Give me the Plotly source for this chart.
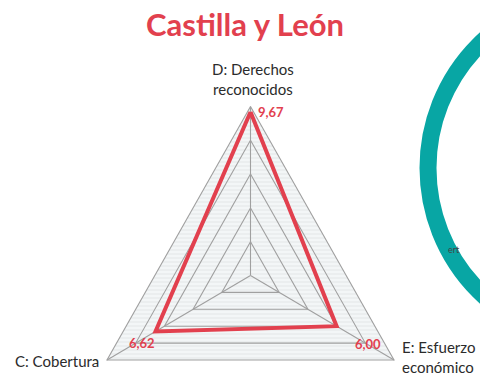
import math
import plotly.graph_objects as go

categories = ["D: Derechos<br>reconocidos", "E: Esfuerzo<br>económico", "C: Cobertura"]
values = [9.67, 6.00, 6.62]
value_labels = ["9,67", "6,00", "6,62"]
grid_levels = [2, 4, 6, 8, 10]
r_max = 10

RED = "#E2404E"
GRID = "#A0A0A0"
TXT = "#2B2B2B"

W, H = 480, 381
# pixel layout of the radar frame
cx_px, cy_px = 250.5, 275.5
sx, sy = 16.57, 16.9   # px per radial unit, horizontal / vertical

angles = [90, -30, 210]   # D top, E bottom-right, C bottom-left (clockwise)


def pol(r, ang):
    a = math.radians(ang)
    return r * math.cos(a), r * math.sin(a)


fig = go.Figure()

# hatched background of the radar
ox = [pol(r_max, a)[0] for a in angles + [angles[0]]]
oy = [pol(r_max, a)[1] for a in angles + [angles[0]]]
fig.add_trace(go.Scatter(
    x=ox, y=oy, mode="lines", fill="toself", fillcolor="#F1F4F5",
    fillpattern=dict(shape="-", size=4, solidity=0.25, fgcolor="#D3D6D6", bgcolor="#F3F6F7"),
    line=dict(width=0), hoverinfo="skip", showlegend=False))

# concentric grid triangles
for lv in grid_levels:
    gx = [pol(lv, a)[0] for a in angles + [angles[0]]]
    gy = [pol(lv, a)[1] for a in angles + [angles[0]]]
    fig.add_trace(go.Scatter(x=gx, y=gy, mode="lines",
                             line=dict(color=GRID, width=1.1),
                             hoverinfo="skip", showlegend=False))

# spokes
for a in angles:
    px, py = pol(r_max, a)
    fig.add_trace(go.Scatter(x=[0, px], y=[0, py], mode="lines",
                             line=dict(color=GRID, width=1.1),
                             hoverinfo="skip", showlegend=False))

# data polygon
dx = [pol(v, a)[0] for v, a in zip(values + [values[0]], angles + [angles[0]])]
dy = [pol(v, a)[1] for v, a in zip(values + [values[0]], angles + [angles[0]])]
fig.add_trace(go.Scatter(x=dx, y=dy, mode="lines",
                         line=dict(color=RED, width=4), showlegend=False))

annotations = []
# value labels
val_style = [
    dict(xanchor="left", yanchor="middle", xshift=5, yshift=0),     # 9,67
    dict(xanchor="left", yanchor="top", xshift=16, yshift=-8),      # 6,00
    dict(xanchor="right", yanchor="top", xshift=1, yshift=-2),      # 6,62
]
for v, a, t, st in zip(values, angles, value_labels, val_style):
    px, py = pol(v, a)
    annotations.append(dict(x=px, y=py, text="<b>" + t + "</b>", showarrow=False,
                            font=dict(family="Lato", size=13, color=RED), **st))

# category labels
cat_style = [
    dict(xanchor="center", yanchor="bottom", xshift=2, yshift=7),
    dict(xanchor="left", yanchor="middle", xshift=6, yshift=3, align="left"),
    dict(xanchor="right", yanchor="middle", xshift=-6, yshift=-1),
]
for c, a, st in zip(categories, angles, cat_style):
    px, py = pol(r_max, a)
    annotations.append(dict(x=px, y=py, text=c, showarrow=False,
                            font=dict(family="Lato", size=15, color=TXT), **st))

# partly hidden text behind the ring (from neighbouring chart)
annotations.append(dict(xref="paper", yref="paper", x=462 / W, y=1 - 257 / H,
                        text="ert", showarrow=False,
                        font=dict(family="Lato", size=9, color="#444444")))

fig.update_layout(
    width=W, height=H,
    margin=dict(l=0, r=0, t=0, b=0),
    paper_bgcolor="white", plot_bgcolor="white",
    title=dict(text="<b>Castilla y León</b>", x=245 / W, xanchor="center",
               y=1 - 25 / H, yanchor="middle",
               font=dict(family="Lato", size=31, color=RED)),
    xaxis=dict(range=[-cx_px / sx, (W - cx_px) / sx], visible=False, fixedrange=True),
    yaxis=dict(range=[-(H - cy_px) / sy, cy_px / sy], visible=False, fixedrange=True),
    annotations=annotations,
    shapes=[dict(type="circle", xref="paper", yref="paper",
                 x0=428 / W, x1=776 / W, y0=1 - 342 / H, y1=1 + 6 / H,
                 line=dict(color="#08A6A4", width=17))],
)

fig.write_html("out.html", config={"displayModeBar": False},
               post_script="document.body.style.margin='0';")
